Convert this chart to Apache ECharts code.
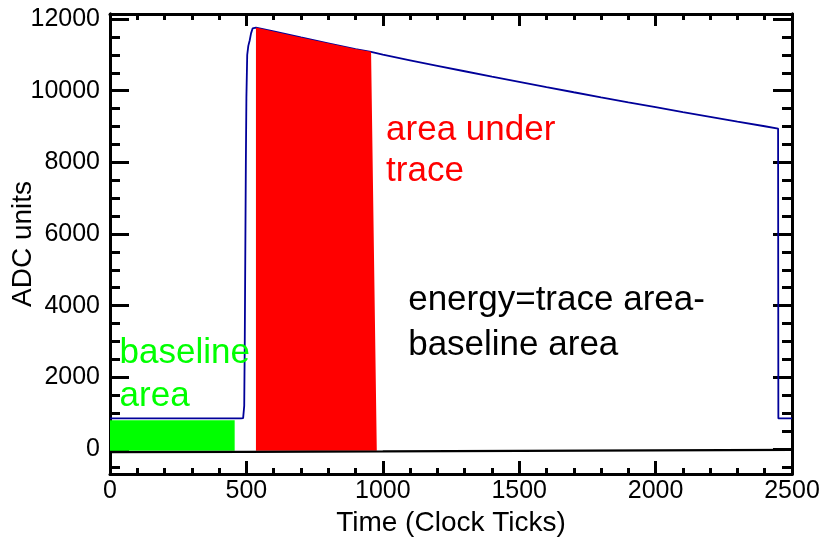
<!DOCTYPE html>
<html><head><meta charset="utf-8">
<script src="https://cdn.jsdelivr.net/npm/echarts@6/dist/echarts.min.js"></script>
<style>html,body{margin:0;padding:0;background:#fff}#c{width:827px;height:540px}</style>
</head><body><div id="c"></div>
<script>
// ---- data ----
const xTickLabels = [0, 500, 1000, 1500, 2000, 2500];
const yTickLabels = [0, 2000, 4000, 6000, 8000, 10000, 12000];
const yMinorTicks = [-500, 0, 500, 1000, 1500, 2000, 2500, 3000, 3500, 4000, 4500, 5000, 5500, 6000,
  6500, 7000, 7500, 8000, 8500, 9000, 9500, 10000, 10500, 11000, 11500, 12000];

// blue ADC trace (time in clock ticks, ADC units)
const traceT = [0, 480, 488, 492, 494, 496, 498, 500, 503, 507, 512, 517, 523, 535,
  600, 700, 800, 900, 957, 1000, 1100, 1200, 1300, 1400, 1500, 1600, 1700, 1800, 1900,
  2000, 2100, 2200, 2300, 2400, 2449, 2450, 2500];
const traceV = [850, 850, 860, 1200, 3000, 5500, 8000, 9800, 11000, 11250, 11400, 11600, 11740, 11762,
  11654, 11487, 11323, 11162, 11083, 11004, 10848, 10694, 10542, 10392, 10245, 10099, 9956, 9814, 9675,
  9538, 9402, 9269, 9137, 9007, 8943, 850, 850];

// black (nearly flat) line
const blackT = [0, 500, 1000, 1500, 2000, 2500];
const blackV = [-90, -80, -70, -55, -40, -25];

// green baseline area
const greenT = [0, 457];
const greenV = [800, 800];

// red integration window (start / end of top edge, end of bottom edge)
const redStart = 535, redEnd = 957, redBottomEnd = 978;
const areaFloor = -50;

// annotations: [text, time, value, colour]
const notes = [
  ['area under', 1012, 8903, '#ff0000'],
  ['trace', 1012, 7758, '#ff0000'],
  ['energy=trace area-', 1093, 4157, '#000000'],
  ['baseline area', 1093, 2900, '#000000'],
  ['baseline', 35, 2677, '#00ff00'],
  ['area', 35, 1476, '#00ff00']
];

// ---- build series data ----
const trace = traceT.map((t, i) => [t, traceV[i]]);
const black = blackT.map((t, i) => [t, blackV[i]]);
const green = greenT.map((t, i) => [t, greenV[i]]);
const red = [[redStart, areaFloor]];
trace.forEach(p => { if (p[0] >= redStart && p[0] <= redEnd) red.push(p); });
red.push([redBottomEnd, areaFloor]);

const FONT = '"Liberation Sans", Arial, sans-serif';
const YMIN = -700, YMAX = 12140;
const plain = v => String(v);

function xAx(pos, show) {
  return {
    type: 'value', position: pos, min: 0, max: 2500, interval: 500,
    axisLine: { show: true, onZero: false, lineStyle: { color: '#000', width: 3 } },
    axisTick: { show: true, inside: true, length: pos === 'bottom' ? 13 : 12, lineStyle: { color: '#000', width: 3 } },
    minorTick: { show: true, splitNumber: 5, length: 6, lineStyle: { color: '#000', width: 3 } },
    splitLine: { show: false },
    axisLabel: { show: show, customValues: xTickLabels, formatter: plain, margin: 5, color: '#000', fontSize: 25, fontFamily: FONT },
    name: show ? 'Time (Clock Ticks)' : '', nameLocation: 'middle', nameGap: 33,
    nameTextStyle: { color: '#000', fontSize: 28, fontFamily: FONT }
  };
}
function yAx(pos, major, show) {
  return {
    type: 'value', position: pos, min: YMIN, max: YMAX,
    axisLine: { show: true, onZero: false, lineStyle: { color: '#000', width: 3 } },
    axisTick: { show: true, inside: true, customValues: major ? yTickLabels : yMinorTicks,
      length: major ? 19 : 10, lineStyle: { color: '#000', width: 3 } },
    splitLine: { show: false },
    axisLabel: { show: show, customValues: yTickLabels, formatter: plain, margin: 10, color: '#000', fontSize: 25, fontFamily: FONT },
    name: show ? 'ADC units' : '', nameLocation: 'middle', nameGap: 73, nameMoveOverlap: false,
    nameTextStyle: { color: '#000', fontSize: 28, fontFamily: FONT }
  };
}

const chart = echarts.init(document.getElementById('c'), null, { renderer: 'canvas' });
chart.setOption({
  animation: false,
  backgroundColor: '#fff',
  grid: { left: 110, right: 35, top: 14, bottom: 66, containLabel: false, outerBoundsMode: 'none' },
  xAxis: [xAx('bottom', true), xAx('top', false)],
  yAxis: [yAx('left', true, true), yAx('left', false, false), yAx('right', true, false), yAx('right', false, false)],
  series: [
    { type: 'line', data: trace, symbol: 'none', lineStyle: { color: '#000099', width: 1.8 }, z: 2 },
    { type: 'line', data: red, symbol: 'none', lineStyle: { width: 0 }, areaStyle: { color: '#ff0000', opacity: 1, origin: areaFloor }, z: 3 },
    { type: 'line', data: green, symbol: 'none', lineStyle: { width: 0 }, areaStyle: { color: '#00ff00', opacity: 1, origin: areaFloor }, z: 3 },
    { type: 'line', data: black, symbol: 'none', lineStyle: { color: '#000', width: 2.2 }, z: 4 }
  ]
});

const g = notes.map(n => {
  const p = chart.convertToPixel({ xAxisIndex: 0, yAxisIndex: 0 }, [n[1], n[2]]);
  return { type: 'text', x: p[0], y: p[1], z: 10,
    style: { text: n[0], fill: n[3], font: '35px "Liberation Sans", Arial, sans-serif', textAlign: 'left', textVerticalAlign: 'middle' } };
});
chart.setOption({ graphic: g });
</script></body></html>
